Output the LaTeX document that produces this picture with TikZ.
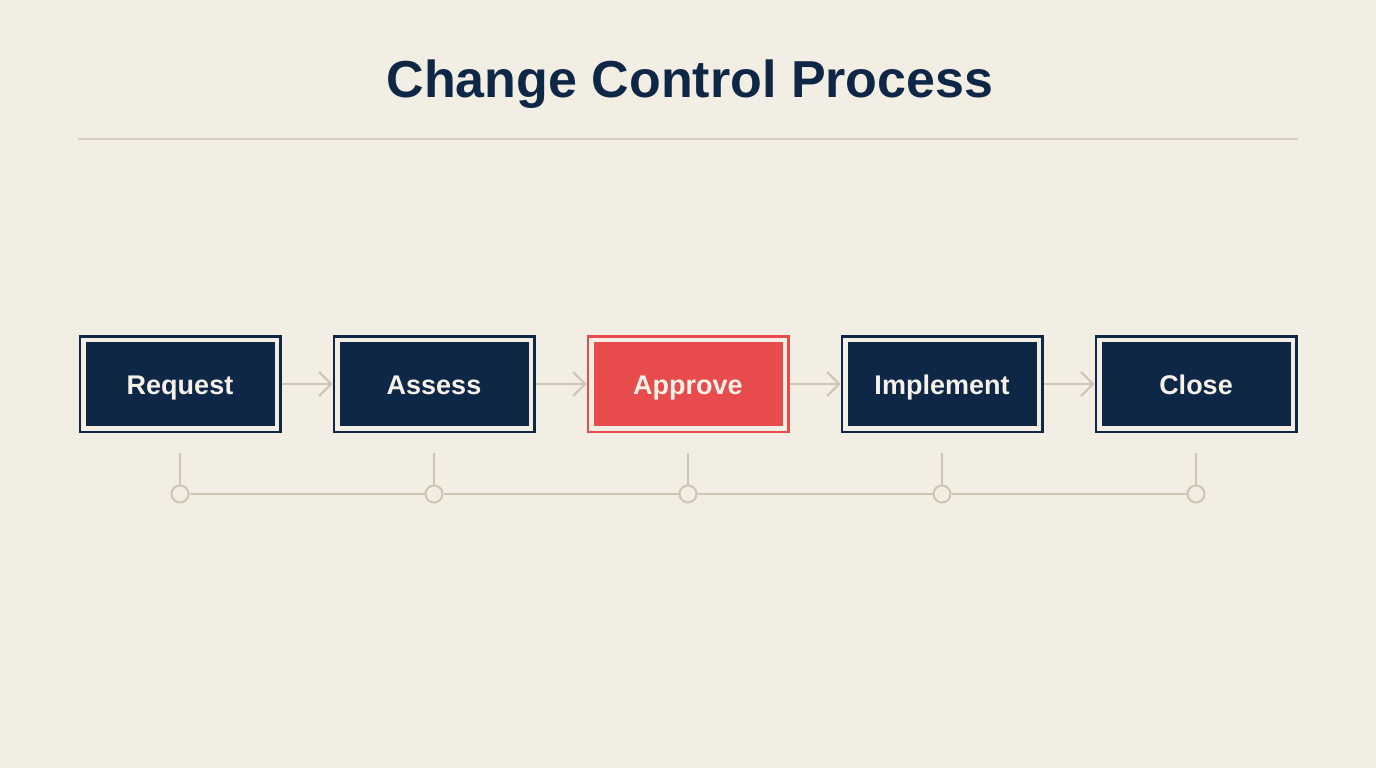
\documentclass[tikz,border=0pt]{standalone}
\usepackage{fontspec}
\setmainfont{Liberation Sans}
\usetikzlibrary{arrows.meta,positioning}

\definecolor{paper}{HTML}{F3EEE3}
\definecolor{navy}{HTML}{0F2747}
\definecolor{alert}{HTML}{E84B4B}
\definecolor{tan}{HTML}{CFC5B2}
\definecolor{rulecol}{HTML}{D9CFBE}
\definecolor{label}{HTML}{F6F1E8}

\tikzset{
  stepbox/.style={rectangle, fill=navy, draw=navy, line width=2.5pt, double=paper,
    double distance=4.5pt, minimum width=193.5pt, minimum height=88.5pt, outer sep=4.75pt,
    text height=22pt, text depth=2pt,
    text=label, font=\bfseries\fontsize{27}{30}\selectfont},
  hotbox/.style={stepbox, fill=alert, draw=alert},
  flow/.style={tan, line width=2pt, -{Straight Barb[length=12pt, width=24pt, line width=2pt]}},
  tick/.style={tan, line width=2pt},
  dot/.style={circle, draw=tan, fill=paper, line width=2pt, minimum size=17pt, inner sep=0pt}
}

\begin{document}
\begin{tikzpicture}[x=1pt, y=-1pt]
        % Page background
        \fill[paper] (0,0) rectangle (1376,768);
        \useasboundingbox (0,0) rectangle (1376,768);

        % Title and rule
        \node[navy, font=\bfseries\fontsize{52}{56}\selectfont] (title) at (690,84) {Change Control Process};
        \draw[rulecol, line width=2pt] (78,139) -- (1298,139);

        % Process steps
        \node[stepbox] (req) at (180,384) {Request};
        \node[stepbox] (ass) at (434,384) {Assess};
        \node[hotbox] (app) at (688,384) {Approve};
        \node[stepbox] (imp) at (942,384) {Implement};
        \node[stepbox] (clo) at (1196,384) {Close};

        % Arrows between steps
        \draw[flow] (req) -- (ass);
        \draw[flow] (ass) -- (app);
        \draw[flow] (app) -- (imp);
        \draw[flow] (imp) -- (clo);

        % Timeline markers
        \node[dot] (m1) at (180,494) {};
        \node[dot] (m2) at (434,494) {};
        \node[dot] (m3) at (688,494) {};
        \node[dot] (m4) at (942,494) {};
        \node[dot] (m5) at (1196,494) {};

        % Ticks down from each step
        \coordinate (k1) at (180,453);
        \coordinate (k2) at (434,453);
        \coordinate (k3) at (688,453);
        \coordinate (k4) at (942,453);
        \coordinate (k5) at (1196,453);
        \draw[tick] (k1) -- (m1);
        \draw[tick] (k2) -- (m2);
        \draw[tick] (k3) -- (m3);
        \draw[tick] (k4) -- (m4);
        \draw[tick] (k5) -- (m5);

        % Timeline line
        \draw[tick] (m1) -- (m2);
        \draw[tick] (m2) -- (m3);
        \draw[tick] (m3) -- (m4);
        \draw[tick] (m4) -- (m5);
\end{tikzpicture}
\end{document}
